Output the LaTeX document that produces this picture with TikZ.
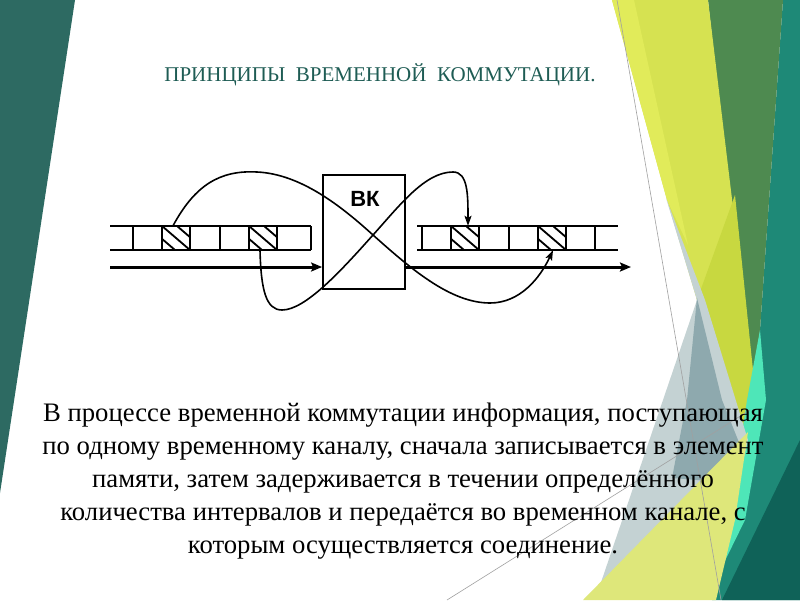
\documentclass[tikz,border=0pt]{standalone}
\usepackage{fontspec}
\setmainfont{Liberation Serif}
\newfontfamily\labelfont{Liberation Sans}
\usetikzlibrary{arrows.meta}
\definecolor{leftteal}{RGB}{45,106,98}
\definecolor{titlecol}{RGB}{30,92,84}
\definecolor{ybright}{RGB}{225,235,90}
\definecolor{ymain}{RGB}{214,226,81}
\definecolor{ygreen}{RGB}{200,216,64}
\definecolor{dgreen}{RGB}{78,138,80}
\definecolor{teal}{RGB}{30,137,119}
\definecolor{deepteal}{RGB}{15,98,88}
\definecolor{aqua}{RGB}{78,230,184}
\definecolor{lgray}{RGB}{196,210,211}
\definecolor{dgray}{RGB}{142,169,174}
\definecolor{pyellow}{RGB}{222,231,122}
\definecolor{thinline}{RGB}{160,160,160}

\begin{document}
\begin{tikzpicture}[x=1pt, y=-1pt,
  hatchcell/.style={minimum width=28pt, minimum height=24pt, inner sep=0pt,
    path picture={
      \draw[line width=1.8pt] (path picture bounding box.north west) -- (path picture bounding box.south east);
      \draw[line width=1.8pt] ([xshift=-15pt]path picture bounding box.north west) -- ([xshift=-15pt]path picture bounding box.south east);
      \draw[line width=1.8pt] ([xshift=15pt]path picture bounding box.north west) -- ([xshift=15pt]path picture bounding box.south east);
    }},
  track/.style={line width=1.8pt},
  chan/.style={line width=3pt, -{Stealth[length=11pt,width=9pt,inset=2pt]}},
  link/.style={line width=1.6pt, -{Stealth[length=10pt,width=7pt,inset=2pt]}}]
\useasboundingbox (0,0) rectangle (800,600);
\fill[white] (0,0) rectangle (800,600);

% background of the slide
\fill[leftteal] (0,0) -- (75,0) -- (0,493) -- cycle;
\fill[teal] (783,0) -- (800,0) -- (800,600) -- (712,600) -- (735,520) -- (760,330) -- cycle;
\fill[deepteal] (800,440) -- (800,600) -- (722,600) -- cycle;
\fill[dgreen] (708,0) -- (783,0) -- (760,330) -- (752,400) -- cycle;
\fill[ymain] (612,0) -- (708,0) -- (755,390) -- (745,470) -- (697,300) -- (667,200) -- cycle;
\fill[ybright] (612,0) -- (634,0) -- (688,245) -- (667,200) -- cycle;
\fill[ygreen] (697,300) -- (735,195) -- (755,390) -- (748,470) -- (720,480) -- cycle;
\fill[aqua] (760,330) -- (766,400) -- (745,520) -- (718,575) -- (735,480) -- (747,400) -- cycle;
\fill[lgray] (666,198) -- (705,300) -- (748,440) -- (720,560) -- (595,600) -- (697,300) -- cycle;
\fill[dgray] (697,298) -- (722,400) -- (740,445) -- (722,482) -- (672,478) -- (687,400) -- cycle;
\fill[pyellow] (583,600) -- (748,432) -- (735,520) -- (716,600) -- cycle;
\draw[thinline, line width=0.6pt] (617,0) -- (721,600);
\draw[thinline, line width=0.6pt] (447,600) -- (750,410);

% title
\node (title) [font=\fontsize{21}{24}\selectfont, text=titlecol] at (380,75) {ПРИНЦИПЫ\ \ ВРЕМЕННОЙ\ \ КОММУТАЦИИ.};

% tracks
\draw[track] (110,226) -- (311,226);
\draw[track] (110,250) -- (311,250);
\draw[track] (417,226) -- (618,226);
\draw[track] (417,250) -- (618,250);
\foreach \x in {133,162,190,220,249,277,311,422,451,479,509,538,566,595}
  \draw[track] (\x,226) -- (\x,250);
\node (h1) [hatchcell] at (176,238) {};
\node (h2) [hatchcell] at (263,238) {};
\node (h3) [hatchcell] at (465,238) {};
\node (h4) [hatchcell] at (552,238) {};

% switch
\node (vk) [draw, line width=1.8pt, minimum width=82pt, minimum height=114pt, inner sep=0pt] at (364,232) {};
\node (vkname) [font=\labelfont\bfseries\fontsize{22}{24}\selectfont] at (365,199) {ВК};

\coordinate (inL) at (110,267);
\coordinate (outR) at (631,267);
\draw[chan] (inL) -- (inL -| vk.west);
\draw[chan] (outR -| vk.east) -- (outR);

% memory links
\draw[link] ([xshift=-3pt]h1.north) .. controls (195,185) and (220,170) .. (257,172)
  .. controls (300,174) and (340,205) .. (373,235)
  .. controls (410,268) and (450,303) .. (490,303)
  .. controls (520,303) and (540,278) .. ([xshift=1pt]h4.south);
\draw[link] ([xshift=-3pt]h2.south) .. controls (261,290) and (266,310) .. (282,310)
  .. controls (305,310) and (340,272) .. (373,235)
  .. controls (400,205) and (425,172) .. (453,172)
  .. controls (468,172) and (468,195) .. ([xshift=3pt]h3.north);

% text
\node (body) [font=\fontsize{26.7}{33}\selectfont, align=center] at (403,481) {В процессе временной коммутации информация, поступающая\\по одному временному каналу, сначала записывается в элемент\\памяти, затем задерживается в течении определённого\\количества интервалов и передаётся во временном канале, с\\которым осуществляется соединение.};
\end{tikzpicture}
\end{document}
